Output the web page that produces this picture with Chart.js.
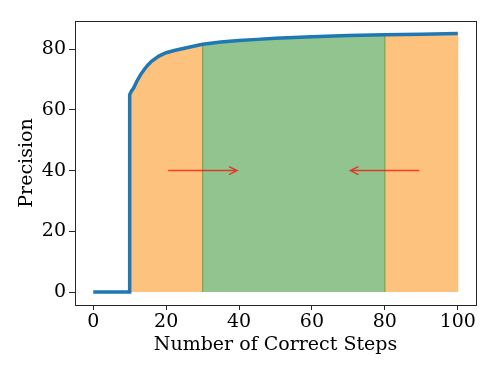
<!DOCTYPE html>
<html>
<head>
<meta charset="utf-8">
<script src="https://cdn.jsdelivr.net/npm/chart.js@4"></script>
<style>
body { margin:0; background:#fff; }
canvas { display:block; }
</style>
</head>
<body>
<canvas id="chart" width="498" height="374"></canvas>
<script>
// precision vs number of correct steps
var curveX = [0, 10, 10, 10.5, 11, 12, 13, 14, 15, 16, 18, 20, 22.5, 25, 30, 35, 40, 45, 50, 60, 70, 80, 90, 100];
var curveY = [0, 0, 65, 66.2, 67, 69.5, 71.6, 73.3, 74.8, 76, 77.7, 78.8, 79.6, 80.3, 81.6, 82.3, 82.8, 83.2, 83.6, 84.1, 84.5, 84.7, 84.9, 85.1];

var orangeRange = [10, 100];
var greenRange = [30, 80];

var arrowFrom = [20, 90];
var arrowTo = [40, 70];
var arrowY = [40, 40];

var xTicks = [0, 20, 40, 60, 80, 100];
var yTicks = [0, 20, 40, 60, 80];

function pts(lo, hi) {
	var out = [];
	for (var i = 0; i < curveX.length; i++) {
		if (curveX[i] >= lo && curveX[i] <= hi) out.push({x: curveX[i], y: curveY[i]});
	}
	// drop down to zero at both ends
	if (out[0].y != 0) out.unshift({x: lo, y: 0});
	out.push({x: hi, y: 0});
	return out;
}

var line = [];
for (var i = 0; i < curveX.length; i++) line.push({x: curveX[i], y: curveY[i]});

var serif = "'DejaVu Serif', serif";

var extras = {
	id: 'extras',
	afterDatasetsDraw: function(chart) {
		var ctx = chart.ctx, a = chart.chartArea;
		var xs = chart.scales.x, ys = chart.scales.y;
		ctx.save();
		ctx.strokeStyle = 'rgba(255,0,0,0.7)';
		ctx.lineWidth = 1.5;
		for (var i = 0; i < arrowFrom.length; i++) {
			var x0 = xs.getPixelForValue(arrowFrom[i]);
			var x1 = xs.getPixelForValue(arrowTo[i]);
			var y = ys.getPixelForValue(arrowY[i]);
			var dir = x1 > x0 ? 1 : -1;
			x0 += dir * 2; x1 -= dir * 2;
			ctx.beginPath();
			ctx.moveTo(x0, y); ctx.lineTo(x1, y);
			ctx.moveTo(x1 - dir * 8, y - 4); ctx.lineTo(x1, y); ctx.lineTo(x1 - dir * 8, y + 4);
			ctx.stroke();
		}
		ctx.restore();

		ctx.save();
		ctx.strokeStyle = '#262626';
		ctx.lineWidth = 1;
		ctx.strokeRect(Math.round(a.left) + 0.5, Math.round(a.top) + 0.5, Math.round(a.right - a.left), Math.round(a.bottom - a.top));
		ctx.restore();
	}
};

var chart = new Chart(document.getElementById('chart'), {
	type: 'line',
	data: {
		datasets: [
			{
				data: line,
				borderColor: '#1f77b4',
				borderWidth: 3.5,
				pointRadius: 0,
				tension: 0,
				fill: false,
				order: 0
			},
			{
				data: pts(greenRange[0], greenRange[1]),
				borderColor: 'rgba(60,150,40,0.6)',
				borderWidth: 1.2,
				backgroundColor: '#91c48e',
				pointRadius: 0,
				fill: 'origin',
				order: 1
			},
			{
				data: pts(orangeRange[0], orangeRange[1]),
				borderColor: 'rgba(255,127,14,0.35)',
				borderWidth: 1.2,
				backgroundColor: '#fec27f',
				pointRadius: 0,
				fill: 'origin',
				order: 2
			}
		]
	},
	options: {
		responsive: false,
		animation: false,
		layout: { padding: { left: 0, right: 22, top: 21, bottom: 0 } },
		plugins: { legend: { display: false }, tooltip: { enabled: false } },
		scales: {
			x: {
				type: 'linear',
				min: -5, max: 105,
				afterBuildTicks: function(s) { s.ticks = xTicks.map(function(v) { return {value: v}; }); },
				afterFit: function(s) { s.height = 69; },
				grid: { drawOnChartArea: false, color: '#262626', tickLength: 5 },
				border: { display: false },
				ticks: { color: '#000', padding: 1, maxRotation: 0, font: { family: serif, size: 19 } },
				title: { display: true, text: 'Number of Correct Steps', color: '#000', padding: { bottom: 17.5 }, font: { family: serif, size: 19 } }
			},
			y: {
				min: -4.25, max: 89.25,
				afterBuildTicks: function(s) { s.ticks = yTicks.map(function(v) { return {value: v}; }); },
				afterFit: function(s) { s.width = 75; },
				grid: { drawOnChartArea: false, color: '#262626', tickLength: 6 },
				border: { display: false },
				ticks: { color: '#000', padding: 3, font: { family: serif, size: 19 } },
				title: { display: true, text: 'Precision', color: '#000', padding: { top: 15.5 }, font: { family: serif, size: 19 } }
			}
		}
	},
	plugins: [extras]
});
</script>
</body>
</html>
